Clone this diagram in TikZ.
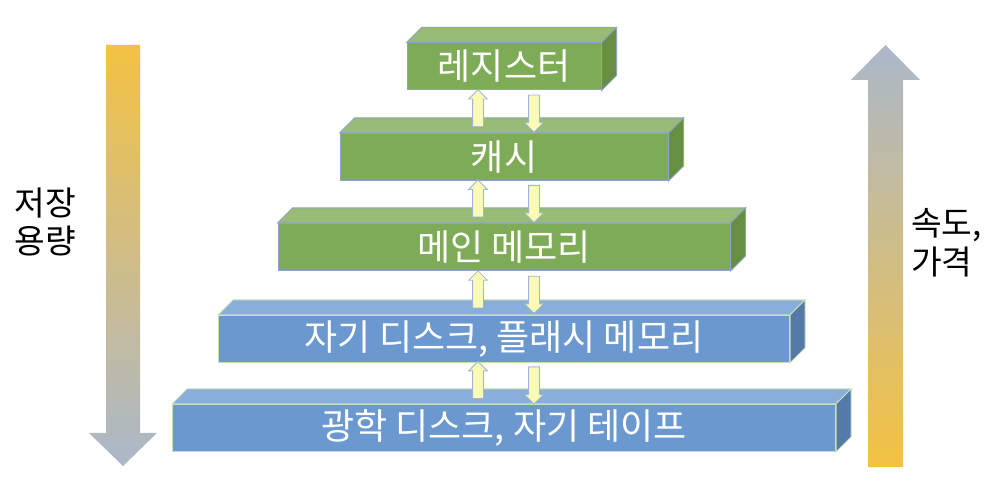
\documentclass[tikz,border=0pt]{standalone}
\usepackage{fontspec}
\setmainfont{Noto Sans CJK KR}
\usetikzlibrary{positioning,shapes.arrows}

\definecolor{grn-front}{HTML}{7EAB55}
\definecolor{grn-top}{HTML}{98BB76}
\definecolor{grn-side}{HTML}{678E41}
\definecolor{grn-edge}{HTML}{8EA3C6}
\definecolor{blu-front}{HTML}{6A98CF}
\definecolor{blu-top}{HTML}{8AAEDA}
\definecolor{blu-side}{HTML}{5579A8}
\definecolor{blu-edge}{HTML}{C8E0B4}
\definecolor{xferfill}{HTML}{FAFCB5}
\definecolor{xferedge}{HTML}{9FB5D3}
\definecolor{slowgold}{HTML}{F4C242}
\definecolor{fastgray}{HTML}{ABB8CA}

\tikzset{
	layer/.style={draw=#1-edge, fill=#1-front, line width=.75pt, inner sep=0pt,
		minimum height=35.25pt, text=white, font=\fontsize{27}{27}\selectfont},
	xfer/.style={single arrow, draw=xferedge, fill=xferfill, line width=.6pt, inner xsep=0pt,
		inner ysep=3.75pt, minimum width=13.5pt, single arrow head extend=3pt, minimum height=27.75pt},
	sidelabel/.style={align=left, inner sep=0pt, font=\fontsize{25}{29}\selectfont},
}

\begin{document}
\begin{tikzpicture}[x=.75pt,y=-.75pt]
	\useasboundingbox (0,0) rectangle (996,491);

	% capacity / speed arrows
	\shade[top color=slowgold, bottom color=fastgray] (106,45) -- (140,45) -- (140,433) -- (157,433)
		-- (123,466) -- (89,433) -- (106,433) -- cycle;
	\shade[top color=fastgray, bottom color=slowgold] (868,467) -- (903,467) -- (903,80) -- (920,80)
		-- (885.5,45) -- (851,80) -- (868,80) -- cycle;
	\node[sidelabel] (capacity) at (45,222) {저장\\용량};
	\node[sidelabel,anchor=west] (speed) at (911,243) {속도,\\가격};

	% the layers
	\foreach \name/\yc/\wid/\col/\txt in {reg/66.5/194/grn/레지스터, cache/157/328/grn/캐시,
		main/247/452/grn/메인 메모리, disk/339/571/blu/{자기 디스크, 플래시 메모리},
		tape/428/663/blu/{광학 디스크, 자기 테이프}}{
		\node[layer=\col, minimum width=\wid*.75pt] (\name) at (504,\yc) {\txt};
		\filldraw[fill=\col-top, draw=\col-edge, line width=.75pt] (\name.north west) -- ++(15,-15)
			-- ([shift={(15,-15)}]\name.north east) -- (\name.north east) -- cycle;
		\filldraw[fill=\col-side, draw=\col-edge, line width=.75pt] (\name.north east) -- ++(15,-15)
			-- ([shift={(15,-15)}]\name.south east) -- (\name.south east) -- cycle;
	}

	% transfers between layers
	\coordinate (upx) at (478,0);
	\coordinate (dnx) at (534,0);
	\foreach \hi/\lo [count=\i] in {reg/cache, cache/main, main/disk, disk/tape}{
		\path (\hi.south) -- coordinate[pos=.48](mid\i) (\lo.north);
		\node[xfer,rotate=90] (up\i) at (mid\i-|upx) {};
		\node[xfer,rotate=-90] (dn\i) at (mid\i-|dnx) {};
	}
\end{tikzpicture}
\end{document}
